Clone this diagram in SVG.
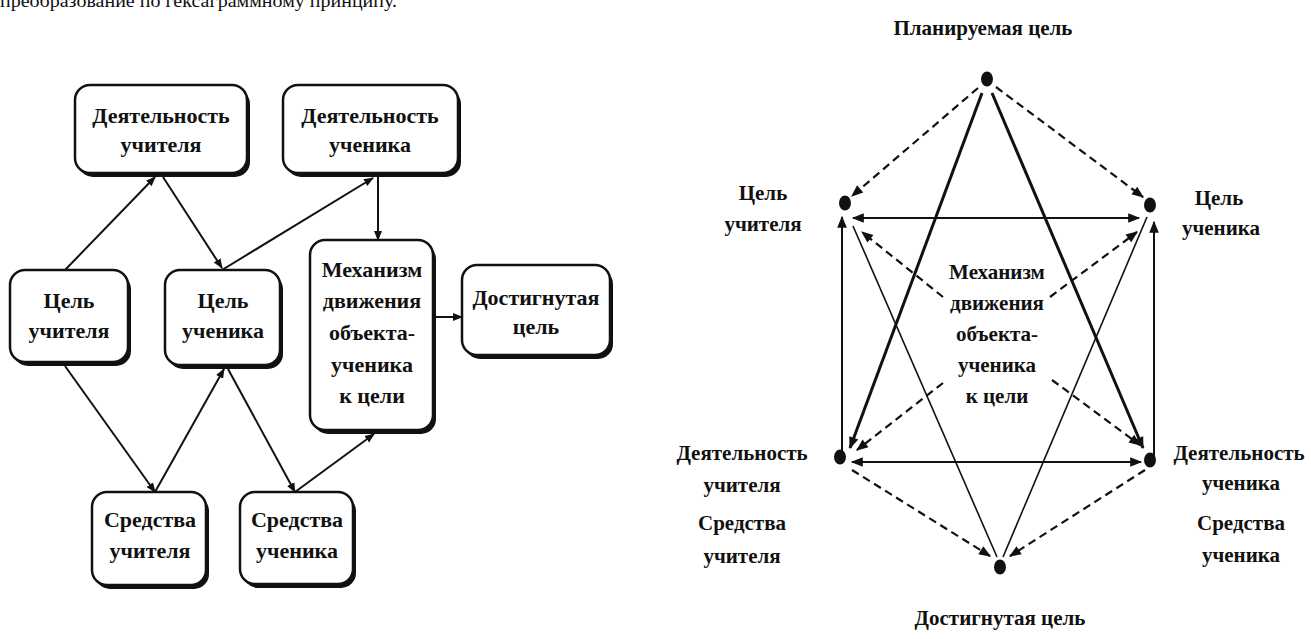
<svg xmlns="http://www.w3.org/2000/svg" width="1311" height="639" viewBox="0 0 1311 639" font-family="'Liberation Serif', 'DejaVu Serif', serif">
<style>
text{font-family:'Liberation Serif','DejaVu Serif',serif;fill:#111}
.b{font-weight:bold;font-size:22px;text-anchor:middle}
.r{font-weight:bold;font-size:21px;text-anchor:middle}
.box{fill:#fff;stroke:#111;stroke-width:2.5}
.sh{fill:#111}
.ln{stroke:#111;stroke-width:2;fill:none}
.thk{stroke:#111;stroke-width:3;fill:none}
.thn{stroke:#111;stroke-width:1.6;fill:none}
.ds{stroke:#111;stroke-width:2.2;fill:none;stroke-dasharray:8 5}
.dot{fill:#111}
</style>
<defs>
<marker id="ah" viewBox="0 0 10 10" refX="9" refY="5" markerWidth="10" markerHeight="10" markerUnits="userSpaceOnUse" orient="auto-start-reverse">
<path d="M0,1 L10,5 L0,9 Z" fill="#111"/>
</marker>
<marker id="ahb" viewBox="0 0 10 10" refX="9" refY="5" markerWidth="13" markerHeight="12" markerUnits="userSpaceOnUse" orient="auto-start-reverse">
<path d="M0,1 L10,5 L0,9 Z" fill="#111"/>
</marker>
</defs>
<rect width="1311" height="639" fill="#fff"/>
<text x="0" y="7" font-size="19" textLength="397" lengthAdjust="spacingAndGlyphs">преобразование по гексаграммному принципу.</text>

<!-- left diagram -->
<g id="connectors-left">
<line class="ln" x1="65" y1="270" x2="155" y2="177" marker-end="url(#ah)"/>
<line class="ln" x1="163" y1="177" x2="222" y2="268" marker-end="url(#ah)"/>
<line class="ln" x1="222" y1="270" x2="373" y2="178" marker-end="url(#ah)"/>
<line class="ln" x1="378" y1="177" x2="378" y2="240" marker-end="url(#ah)"/>
<line class="ln" x1="436" y1="317" x2="462" y2="317" marker-end="url(#ah)"/>
<line class="ln" x1="65" y1="366" x2="155" y2="492" marker-end="url(#ah)"/>
<line class="ln" x1="155" y1="492" x2="224" y2="369" marker-end="url(#ah)"/>
<line class="ln" x1="228" y1="369" x2="295" y2="492" marker-end="url(#ah)"/>
<line class="ln" x1="295" y1="492" x2="374" y2="434" marker-end="url(#ah)"/>
</g>
<g id="n-deyat-uch">
<rect class="sh" x="78" y="89" width="172" height="88" rx="15"/>
<rect class="box" x="75" y="85" width="172" height="88" rx="15"/>
<text class="b" x="161" y="123">Деятельность</text>
<text class="b" x="161" y="152">учителя</text>
</g>
<g id="n-deyat-stud">
<rect class="sh" x="286" y="89" width="175" height="88" rx="15"/>
<rect class="box" x="283" y="85" width="175" height="88" rx="15"/>
<text class="b" x="370" y="123">Деятельность</text>
<text class="b" x="370" y="152">ученика</text>
</g>
<g id="n-cel-uch">
<rect class="sh" x="13" y="274" width="118" height="92" rx="15"/>
<rect class="box" x="10" y="270" width="118" height="92" rx="15"/>
<text class="b" x="69" y="308">Цель</text>
<text class="b" x="69" y="338">учителя</text>
</g>
<g id="n-cel-stud">
<rect class="sh" x="168" y="274" width="115" height="95" rx="15"/>
<rect class="box" x="165" y="270" width="115" height="95" rx="15"/>
<text class="b" x="223" y="308">Цель</text>
<text class="b" x="223" y="338">ученика</text>
</g>
<g id="n-mech">
<rect class="sh" x="313" y="244" width="123" height="190" rx="15"/>
<rect class="box" x="310" y="240" width="123" height="190" rx="15"/>
<text class="b" x="372" y="277">Механизм</text>
<text class="b" x="372" y="308">движения</text>
<text class="b" x="372" y="340">объекта-</text>
<text class="b" x="372" y="372">ученика</text>
<text class="b" x="372" y="403">к цели</text>
</g>
<g id="n-dost">
<rect class="sh" x="465" y="269" width="148" height="90" rx="15"/>
<rect class="box" x="462" y="265" width="148" height="90" rx="15"/>
<text class="b" x="536" y="305">Достигнутая</text>
<text class="b" x="536" y="334">цель</text>
</g>
<g id="n-sr-uch">
<rect class="sh" x="95" y="496" width="114" height="93" rx="15"/>
<rect class="box" x="92" y="492" width="114" height="93" rx="15"/>
<text class="b" x="150" y="527">Средства</text>
<text class="b" x="150" y="558">учителя</text>
</g>
<g id="n-sr-stud">
<rect class="sh" x="243" y="496" width="113" height="92" rx="15"/>
<rect class="box" x="240" y="492" width="113" height="92" rx="15"/>
<text class="b" x="297" y="527">Средства</text>
<text class="b" x="297" y="558">ученика</text>
</g>

<!-- right diagram -->
<g id="connectors-right">
<line class="ds" x1="978" y1="88" x2="852" y2="196" marker-end="url(#ahb)"/>
<line class="ds" x1="996" y1="87" x2="1143" y2="197" marker-end="url(#ahb)"/>
<line class="thk" x1="982" y1="93" x2="850" y2="448" marker-end="url(#ahb)"/>
<line class="thk" x1="992" y1="93" x2="1143" y2="448" marker-end="url(#ahb)"/>
<line class="ln" x1="853" y1="218" x2="1139" y2="218" marker-start="url(#ahb)" marker-end="url(#ahb)"/>
<line class="ln" x1="852" y1="462" x2="1141" y2="462" marker-start="url(#ahb)" marker-end="url(#ahb)"/>
<line class="ln" x1="842" y1="457" x2="842" y2="217" marker-end="url(#ahb)"/>
<line class="ln" x1="1154" y1="458" x2="1154" y2="222" marker-end="url(#ahb)"/>
<line class="thn" x1="853" y1="226" x2="997" y2="557"/>
<line class="thn" x1="1003" y1="557" x2="1147" y2="217"/>
<line class="ds" x1="943" y1="297" x2="862" y2="232" marker-end="url(#ahb)"/>
<line class="ds" x1="1050" y1="297" x2="1137" y2="232" marker-end="url(#ahb)"/>
<line class="ds" x1="943" y1="383" x2="857" y2="450" marker-end="url(#ahb)"/>
<line class="ds" x1="1052" y1="380" x2="1140" y2="445" marker-end="url(#ahb)"/>
<line class="ds" x1="852" y1="470" x2="990" y2="556" marker-end="url(#ahb)"/>
<line class="ds" x1="1145" y1="470" x2="1010" y2="556" marker-end="url(#ahb)"/>
</g>
<g id="r-plan">
<ellipse class="dot" cx="987" cy="79" rx="6" ry="7.5"/>
<text class="r" x="983" y="35">Планируемая цель</text>
</g>
<g id="r-cel-uch">
<ellipse class="dot" cx="845" cy="203" rx="6" ry="7.5"/>
<text class="r" x="763" y="200">Цель</text>
<text class="r" x="763" y="231">учителя</text>
</g>
<g id="r-cel-stud">
<ellipse class="dot" cx="1150" cy="205" rx="6" ry="7.5"/>
<text class="r" x="1219" y="205">Цель</text>
<text class="r" x="1221" y="235">ученика</text>
</g>
<g id="r-deyat-uch">
<ellipse class="dot" cx="840" cy="457" rx="6" ry="7.5"/>
<text class="r" x="742" y="460">Деятельность</text>
<text class="r" x="742" y="492">учителя</text>
<text class="r" x="742" y="530">Средства</text>
<text class="r" x="742" y="563">учителя</text>
</g>
<g id="r-deyat-stud">
<ellipse class="dot" cx="1150" cy="460" rx="6" ry="7.5"/>
<text class="r" x="1239" y="460">Деятельность</text>
<text class="r" x="1241" y="490">ученика</text>
<text class="r" x="1241" y="530">Средства</text>
<text class="r" x="1241" y="562">ученика</text>
</g>
<g id="r-dost">
<ellipse class="dot" cx="1000" cy="567" rx="6" ry="7.5"/>
<text class="r" x="1000" y="625">Достигнутая цель</text>
</g>
<g id="r-mech">
<text class="r" x="997" y="279">Механизм</text>
<text class="r" x="997" y="310">движения</text>
<text class="r" x="997" y="341">объекта-</text>
<text class="r" x="997" y="372">ученика</text>
<text class="r" x="997" y="403">к цели</text>
</g>
</svg>
